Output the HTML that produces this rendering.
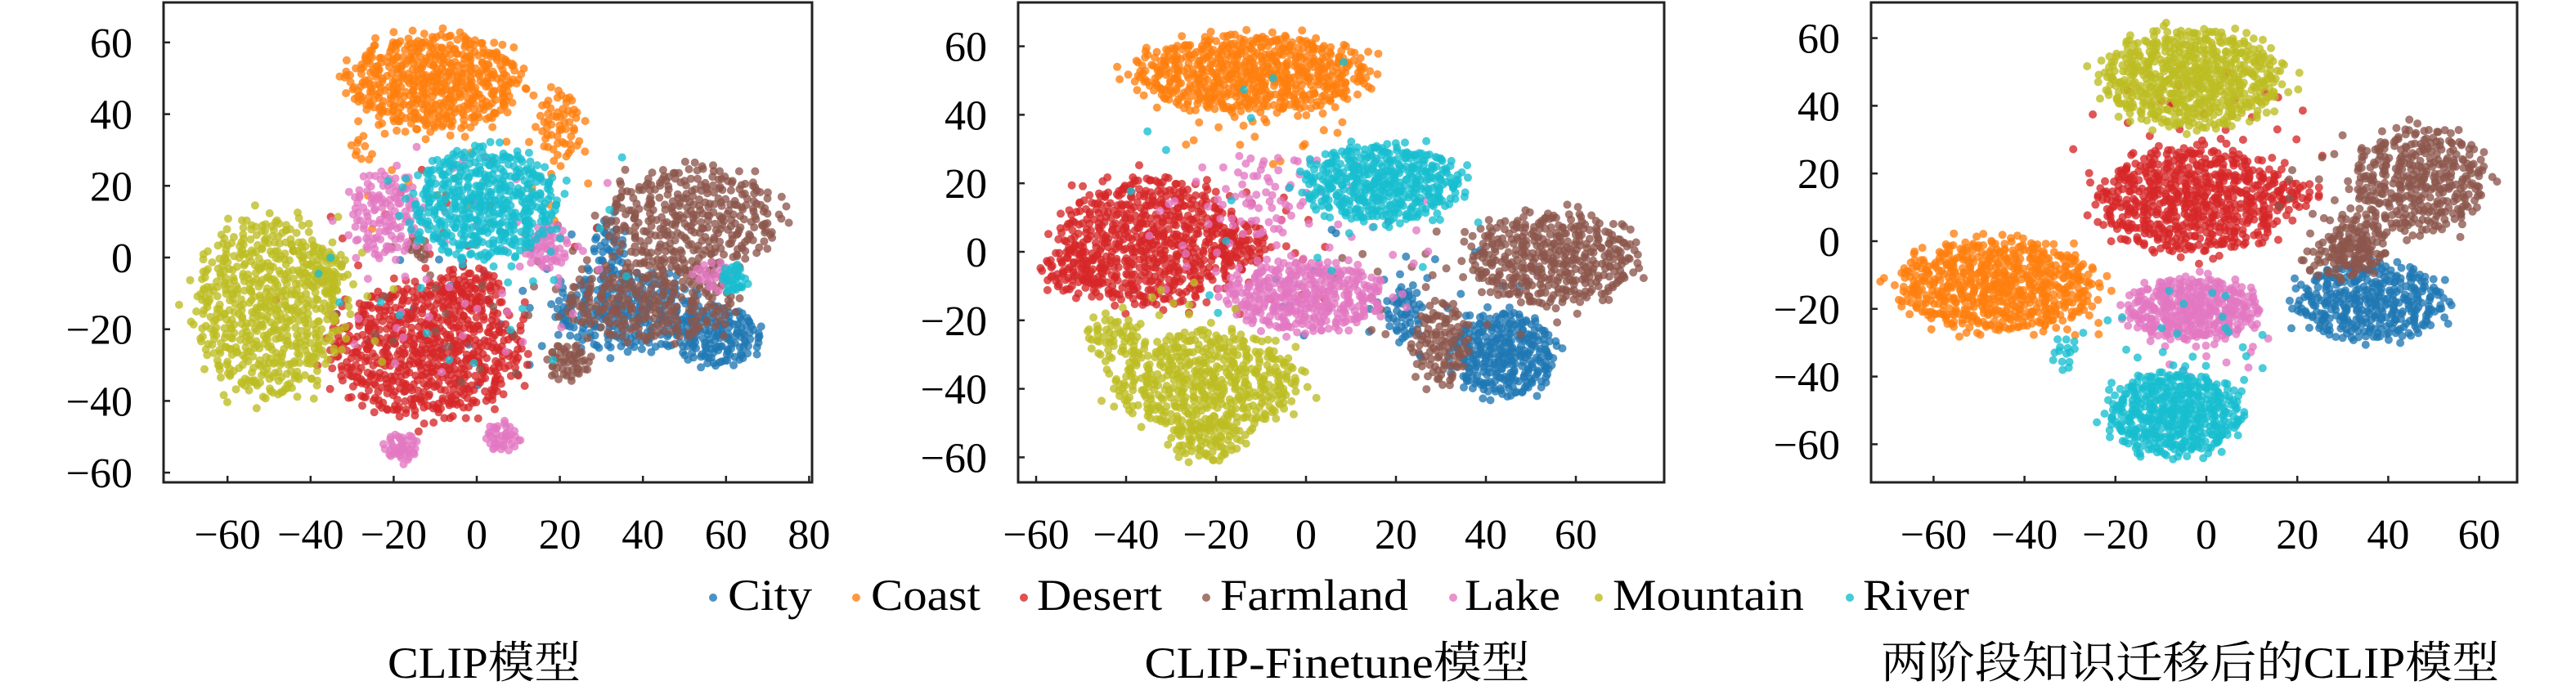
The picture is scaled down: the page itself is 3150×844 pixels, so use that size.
<!DOCTYPE html>
<html><head><meta charset="utf-8"><style>
html,body{margin:0;padding:0;background:#fff}
svg{display:block}
text{font-family:"Liberation Serif","Noto Serif CJK SC",serif;fill:#000}
</style></head><body>
<svg id="fig" width="3150" height="844" viewBox="0 0 3150 844" xmlns="http://www.w3.org/2000/svg"></svg>
<script>
// ---- data ----
const categories = ["City","Coast","Desert","Farmland","Lake","Mountain","River"];
const colors = ["#1f77b4","#ff7f0e","#d62728","#8c564b","#e377c2","#bcbd22","#17becf"];
const xTicks1 = [-60,-40,-20,0,20,40,60,80];
const xTicks2 = [-60,-40,-20,0,20,40,60];
const xTicks3 = [-60,-40,-20,0,20,40,60];
const yTicks = [-60,-40,-20,0,20,40,60];
const titles = ["CLIP模型","CLIP-Finetune模型","两阶段知识迁移后的CLIP模型"];
// cluster blobs: [classIndex, centerX, centerY, radiusX, radiusY, count] in data units
const blobs1 = [
 [5,-50,-14,17,24,600],[5,-36,-4,5,6,40],[5,-35,-10,15,25,15],
 [2,-12,-26,22,18,650],[2,-2,-8,8,5,60],[2,-10,0,40,30,25],
 [1,-10,49,20,13,520],[1,20,37,5,10,60],[1,-28,30,3,4,10],[1,0,20,30,20,25],
 [3,52,11,20,14,350],[3,42,-12,20,11,250],[3,22,-29,5,5,50],[3,-14,2,3,3,12],[3,0,-10,30,25,30],
 [0,36,-15,17,11,240],[0,58,-22,10,8,150],[0,32,3,4,8,40],[0,5,-10,30,25,30],
 [4,-22,12,8,12,120],[4,-18,-53,4,4,40],[4,6,-50,4,4,40],[4,17,3,5,6,50],[4,57,-5,5,4,25],[4,-5,0,35,30,60],
 [6,2,15,17,15,460],[6,62,-6,3,4,30],[6,0,0,40,30,30]
];
const blobs2 = [
 [5,-22,-38,20,14,500],[5,-22,-55,8,6,80],[5,-43,-25,6,6,50],[5,-30,-20,15,10,20],
 [2,-35,3,19,18,600],[2,-52,-6,7,7,60],[2,-14,2,6,6,50],[2,-15,0,20,20,40],
 [1,-12,52,25,11,620],[1,-10,35,20,10,20],
 [3,55,-2,18,13,400],[3,30,-27,6,12,100],[3,30,-10,25,20,30],
 [0,44,-30,11,12,300],[0,22,-18,4,8,50],[0,20,-10,30,20,30],
 [4,0,-13,17,10,350],[4,-10,16,10,12,50],[4,-5,5,30,25,60],
 [6,17,20,17,11,420],[6,0,20,40,40,20]
];
const blobs3 = [
 [5,-3,48,19,14,600],
 [2,-3,12,20,15,600],[2,20,14,5,4,25],[2,0,30,25,20,40],
 [1,-46,-13,21,13,620],[1,-30,-25,10,5,10],
 [3,47,18,14,15,350],[3,33,0,6,8,80],[3,30,-5,8,6,60],[3,30,10,15,20,30],
 [0,36,-18,16,11,350],
 [4,-3,-20,14,9,350],[4,0,-30,15,10,20],
 [6,-7,-51,14,12,450],[6,-31,-33,3,5,15],[6,-5,-30,20,15,25]
];
// ---- layout ----
const NS="http://www.w3.org/2000/svg";
const svg=document.getElementById('fig');
function mk(tag,attrs,parent){const e=document.createElementNS(NS,tag);for(const k in attrs)e.setAttribute(k,attrs[k]);(parent||svg).appendChild(e);return e;}
const panels=[
 {blobs:blobs1,xt:xTicks1,left:200,right:993,top:3,bottom:590,x0:583,sx:5.08,y0:315,sy:4.385,tx:592},
 {blobs:blobs2,xt:xTicks2,left:1245,right:2035,top:3,bottom:590,x0:1597,sx:5.50,y0:308,sy:4.19,tx:1635},
 {blobs:blobs3,xt:xTicks3,left:2288,right:3078,top:3,bottom:590,x0:2698,sx:5.56,y0:295,sy:4.14,tx:2678}
];
const titleLen=[236,471,756];
function halton(i,b){let f=1,r=0;while(i>0){f/=b;r+=f*(i%b);i=Math.floor(i/b);}return r;}
let hidx=1;
panels.forEach((p,pi)=>{
 const g=mk('g',{});
 
 
 const X=v=>p.x0+v*p.sx, Y=v=>p.y0-v*p.sy;
 for(let c=0;c<categories.length;c++){
  const sg=mk('g',{fill:colors[c],'fill-opacity':0.78},g);
  
  
  p.blobs.filter(b=>b[0]===c).forEach(b=>{
   for(let k=0;k<b[5];k++){
    const u=halton(hidx,2),v=halton(hidx,3),w=halton(hidx,5);hidx++;
    const r=Math.pow(u,0.55)*(1+0.3*w*w*w),a=v*2*Math.PI;
    const dx=b[1]+b[3]*r*Math.cos(a), dy=b[2]+b[4]*r*Math.sin(a);
    const pt=mk('circle',{cx:X(dx).toFixed(1),cy:Y(dy).toFixed(1),r:5},sg);
    
    
   }
  });
 }
 const fr=mk('rect',{x:p.left,y:p.top,width:p.right-p.left,height:p.bottom-p.top,fill:'none',stroke:'#222',"stroke-width":3},g);
 
 
 p.xt.forEach(t=>{
  const x=X(t);
  mk('line',{x1:x,x2:x,y1:p.bottom,y2:p.bottom-8,stroke:'#222','stroke-width':2.5},g);
  const tl=mk('text',{x:x,y:671,'font-size':52,'text-anchor':'middle'},g);
  tl.textContent=(t<0?'\u2212':'')+Math.abs(t);
  
  
 });
 yTicks.forEach(t=>{
  const y=Y(t);
  mk('line',{x1:p.left,x2:p.left+8,y1:y,y2:y,stroke:'#222','stroke-width':2.5},g);
  const tl=mk('text',{x:p.left-38,y:y+18,'font-size':52,'text-anchor':'end'},g);
  tl.textContent=(t<0?'\u2212':'')+Math.abs(t);
  
  
 });
 const tt=mk('text',{x:p.tx,y:829,'font-size':54,'text-anchor':'middle',textLength:titleLen[pi],lengthAdjust:'spacingAndGlyphs'});
 tt.textContent=titles[pi];
 
 
});
// legend
const legDot=[872,1047,1252,1475,1777,1955,2262];
const legStart=[890,1065,1268,1492,1791,1972,2278];
const legEnd=[993,1199,1421,1722,1908,2206,2408];
const lg=mk('g',{});


categories.forEach((c,i)=>{
 const e=mk('g',{},lg);
 
 
 mk('circle',{cx:legDot[i],cy:731,r:5,fill:colors[i],'fill-opacity':0.8},e);
 const t=mk('text',{x:legStart[i],y:746,'font-size':54,textLength:legEnd[i]-legStart[i],lengthAdjust:'spacingAndGlyphs'},e);
 t.textContent=c;
});
</script>
</body></html>
